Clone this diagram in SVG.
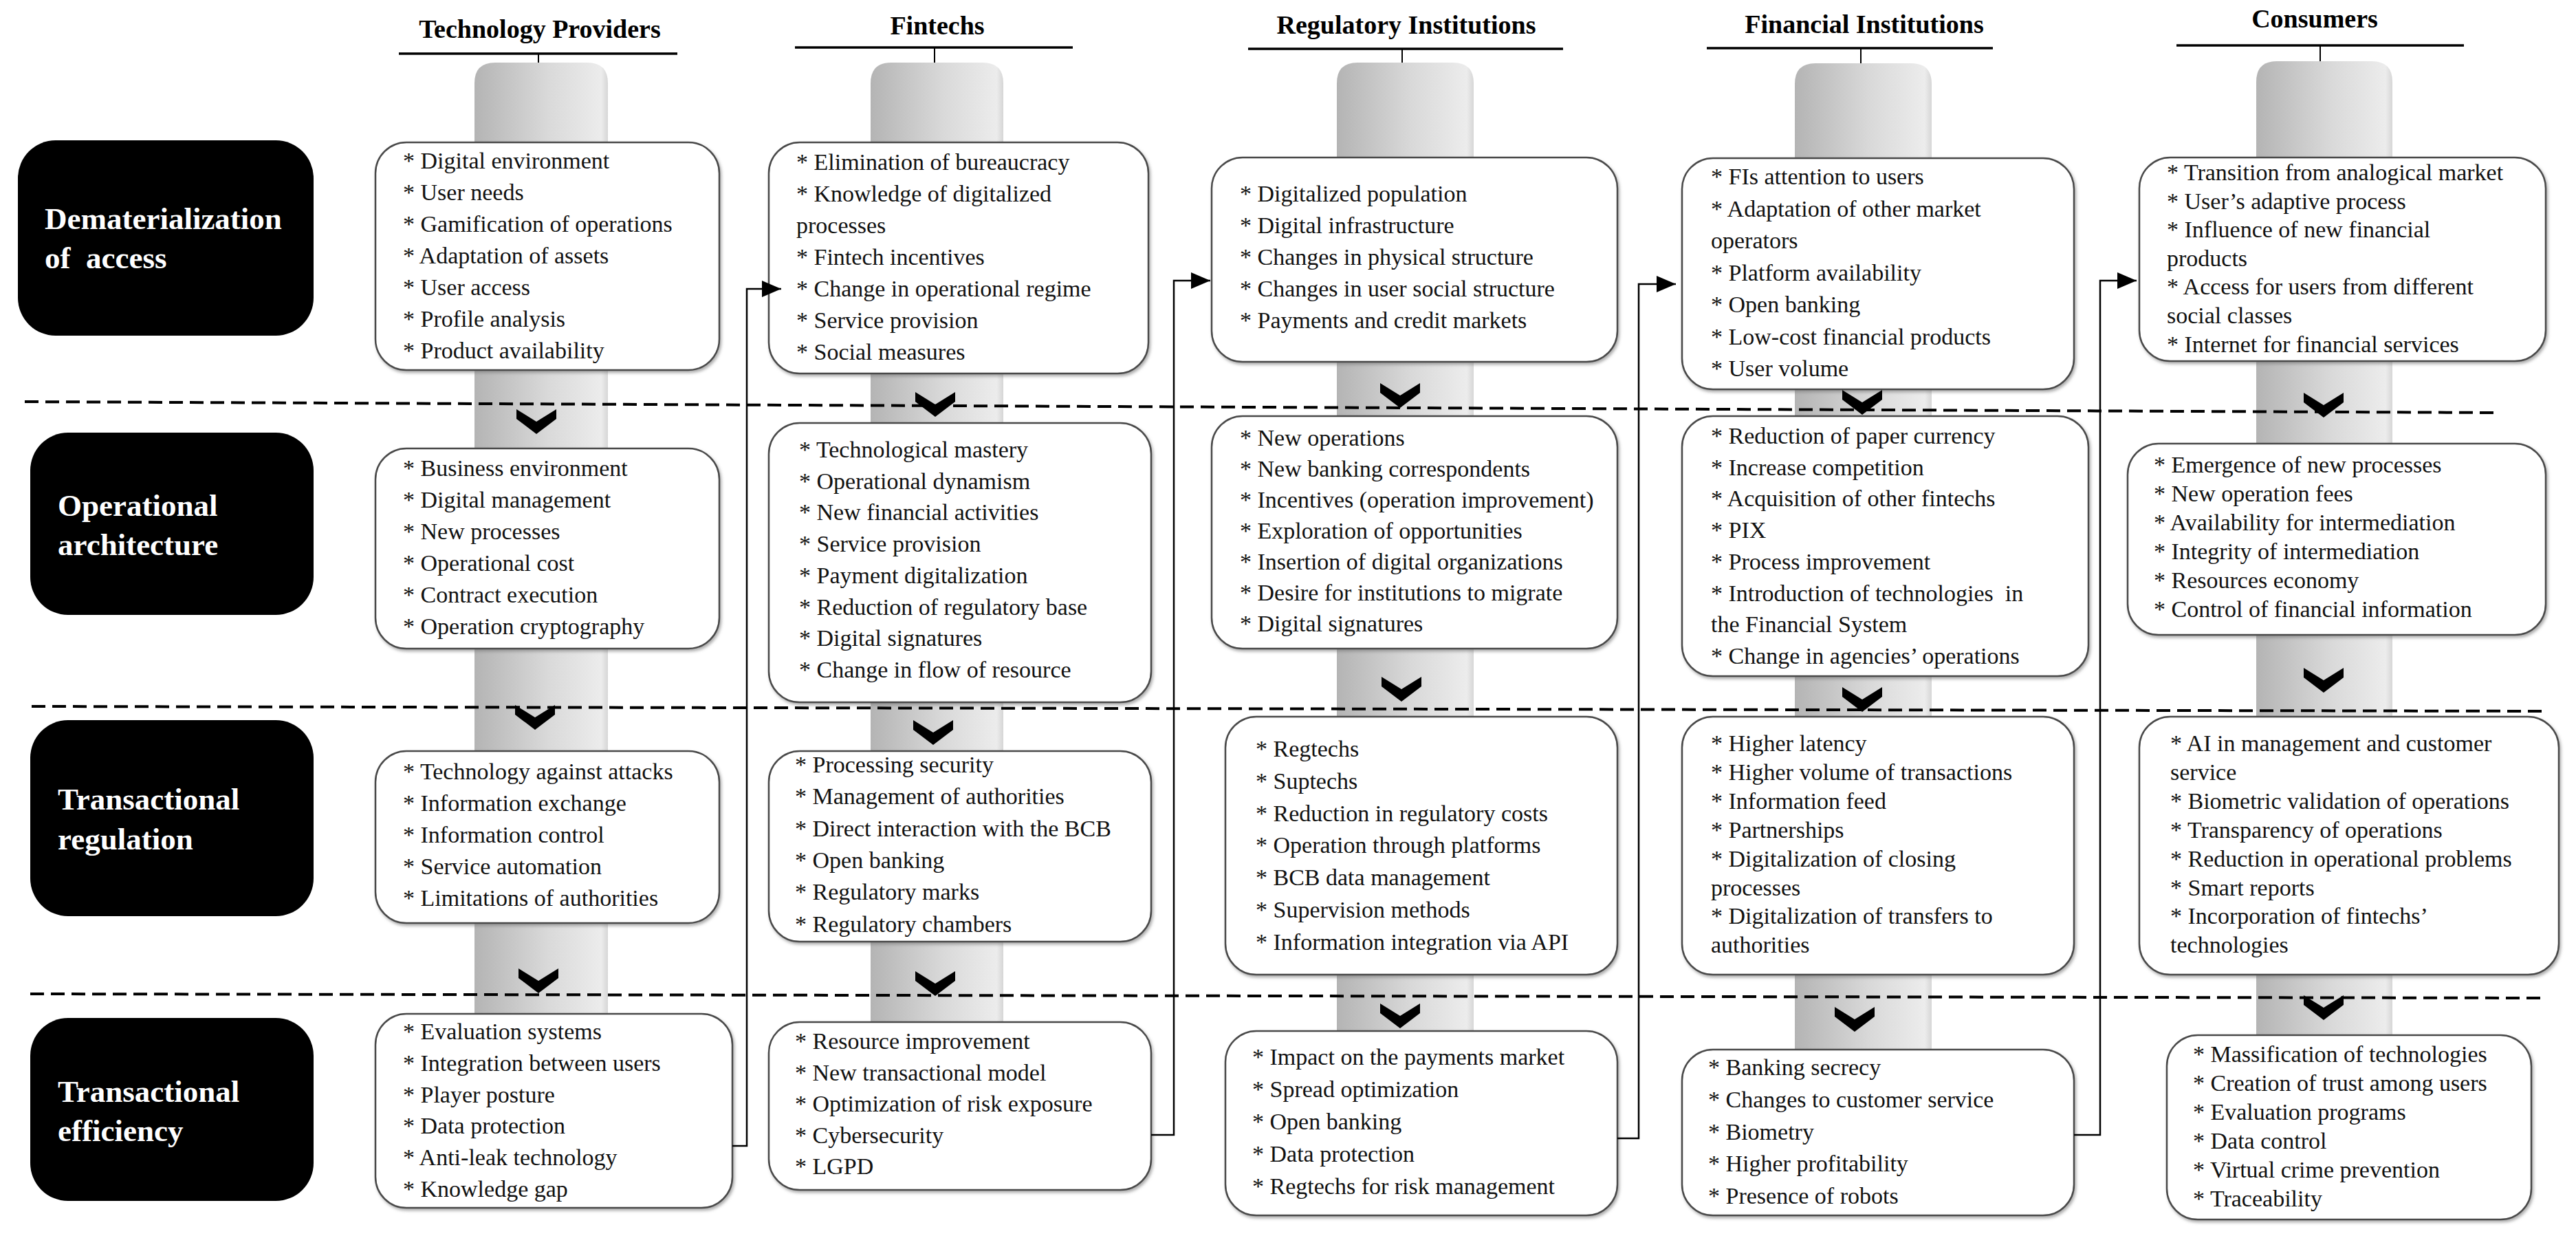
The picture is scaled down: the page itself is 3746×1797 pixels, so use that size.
<svg xmlns="http://www.w3.org/2000/svg" width="3746" height="1797" viewBox="0 0 3746 1797">
<defs>
<style>
.hdr{font-family:"Liberation Serif","Times New Roman",serif;font-weight:bold;font-size:38px;fill:#000;text-anchor:middle}
.hline{stroke:#000;stroke-width:3.5}
.tick{stroke:#000;stroke-width:2}
.pillar{fill:url(#pg)}
.dash{stroke:#000;stroke-width:4;stroke-dasharray:20 10;fill:none}
.box{fill:#fff;stroke:#4a4a4a;stroke-width:2.5;filter:url(#sh)}
.item{font-family:"Liberation Serif","Times New Roman",serif;font-size:34px;fill:#111}
.lab{fill:#000}
.labt{font-family:"Liberation Serif","Times New Roman",serif;font-weight:bold;font-size:45px;fill:#fff}
.conn{stroke:#000;stroke-width:2.5;fill:none;marker-end:url(#ah)}
.chev{fill:#000}
</style>
<linearGradient id="pg" x1="0" y1="0" x2="1" y2="0">
<stop offset="0" stop-color="#b4b4b4"/>
<stop offset="0.55" stop-color="#d9d9d9"/>
<stop offset="0.95" stop-color="#ececec"/>
<stop offset="1" stop-color="#d6d6d6"/>
</linearGradient>
<filter id="sh" x="-5%" y="-5%" width="110%" height="115%">
<feDropShadow dx="2" dy="3" stdDeviation="2" flood-color="#777" flood-opacity="0.6"/>
</filter>
<marker id="ah" viewBox="0 0 28 24" refX="28" refY="12" markerWidth="28" markerHeight="24" markerUnits="userSpaceOnUse" orient="auto">
<path d="M0,0 L28,12 L0,24 Z" fill="#000"/>
</marker>
<path id="chev" d="M-29,0 L0,18 L29,0 L29,14 L0,36 L-29,14 Z"/>
</defs>
<rect x="0" y="0" width="3746" height="1797" fill="#fff"/>

<g id="pillars">
<path class="pillar" d="M690,1500 V121 Q690,91 720,91 H854 Q884,91 884,121 V1500 Z"/>
<path class="pillar" d="M1266,1510 V121 Q1266,91 1296,91 H1429 Q1459,91 1459,121 V1510 Z"/>
<path class="pillar" d="M1944,1520 V121 Q1944,91 1974,91 H2113 Q2143,91 2143,121 V1520 Z"/>
<path class="pillar" d="M2610,1545 V122 Q2610,92 2640,92 H2779 Q2809,92 2809,122 V1545 Z"/>
<path class="pillar" d="M3281,1530 V119 Q3281,89 3311,89 H3449 Q3479,89 3479,119 V1530 Z"/>
</g>

<g id="dividers">
<line class="dash" x1="36" y1="584" x2="3632" y2="600"/>
<line class="dash" x1="46" y1="1027" x2="3703" y2="1034"/>
<line class="dash" x1="44" y1="1445" x2="3703" y2="1451"/>
</g>

<g id="headers">
<g id="hdr-tp"><text class="hdr" x="785" y="55">Technology Providers</text><line class="hline" x1="580" y1="78" x2="985" y2="78"/><line class="tick" x1="783" y1="78" x2="783" y2="91"/></g>
<g id="hdr-f"><text class="hdr" x="1363" y="50">Fintechs</text><line class="hline" x1="1156" y1="69" x2="1560" y2="69"/><line class="tick" x1="1359" y1="69" x2="1359" y2="91"/></g>
<g id="hdr-r"><text class="hdr" x="2045" y="49">Regulatory Institutions</text><line class="hline" x1="1815" y1="71" x2="2273" y2="71"/><line class="tick" x1="2039" y1="71" x2="2039" y2="91"/></g>
<g id="hdr-fi"><text class="hdr" x="2711" y="48">Financial Institutions</text><line class="hline" x1="2482" y1="70" x2="2898" y2="70"/><line class="tick" x1="2706" y1="70" x2="2706" y2="92"/></g>
<g id="hdr-c"><text class="hdr" x="3366" y="40">Consumers</text><line class="hline" x1="3165" y1="66" x2="3583" y2="66"/><line class="tick" x1="3374" y1="66" x2="3374" y2="89"/></g>
</g>

<g id="row-labels">
<g id="lab-1"><rect class="lab" x="26" y="204" width="430" height="284" rx="55"/><text class="labt" x="65" y="333">Dematerialization</text><text class="labt" x="65" y="390">of&#160; access</text></g>
<g id="lab-2"><rect class="lab" x="44" y="629" width="412" height="265" rx="55"/><text class="labt" x="84" y="750">Operational</text><text class="labt" x="84" y="807">architecture</text></g>
<g id="lab-3"><rect class="lab" x="44" y="1047" width="412" height="285" rx="55"/><text class="labt" x="84" y="1177">Transactional</text><text class="labt" x="84" y="1235">regulation</text></g>
<g id="lab-4"><rect class="lab" x="44" y="1480" width="412" height="266" rx="55"/><text class="labt" x="84" y="1602">Transactional</text><text class="labt" x="84" y="1659">efficiency</text></g>
</g>

<g id="tp1"><rect class="box" x="546" y="207" width="500" height="331" rx="45"/>
<text class="item" x="586" y="245"><tspan x="586">* Digital environment</tspan><tspan x="586" dy="46">* User needs</tspan><tspan x="586" dy="46">* Gamification of operations</tspan><tspan x="586" dy="46">* Adaptation of assets</tspan><tspan x="586" dy="46">* User access</tspan><tspan x="586" dy="46">* Profile analysis</tspan><tspan x="586" dy="46">* Product availability</tspan></text></g>

<g id="f1"><rect class="box" x="1118" y="207" width="552" height="336" rx="45"/>
<text class="item" x="1158" y="247"><tspan x="1158">* Elimination of bureaucracy</tspan><tspan x="1158" dy="46">* Knowledge of digitalized</tspan><tspan x="1158" dy="46">processes</tspan><tspan x="1158" dy="46">* Fintech incentives</tspan><tspan x="1158" dy="46">* Change in operational regime</tspan><tspan x="1158" dy="46">* Service provision</tspan><tspan x="1158" dy="46">* Social measures</tspan></text></g>

<g id="r1"><rect class="box" x="1762" y="229" width="590" height="297" rx="45"/>
<text class="item" x="1803" y="293"><tspan x="1803">* Digitalized population</tspan><tspan x="1803" dy="46">* Digital infrastructure</tspan><tspan x="1803" dy="46">* Changes in physical structure</tspan><tspan x="1803" dy="46">* Changes in user social structure</tspan><tspan x="1803" dy="46">* Payments and credit markets</tspan></text></g>

<g id="fi1"><rect class="box" x="2446" y="230" width="570" height="336" rx="45"/>
<text class="item" x="2488" y="268"><tspan x="2488">* FIs attention to users</tspan><tspan x="2488" dy="46.5">* Adaptation of other market</tspan><tspan x="2488" dy="46.5">operators</tspan><tspan x="2488" dy="46.5">* Platform availability</tspan><tspan x="2488" dy="46.5">* Open banking</tspan><tspan x="2488" dy="46.5">* Low-cost financial products</tspan><tspan x="2488" dy="46.5">* User volume</tspan></text></g>

<g id="c1"><rect class="box" x="3111" y="229" width="591" height="296" rx="45"/>
<text class="item" x="3151" y="262"><tspan x="3151">* Transition from analogical market</tspan><tspan x="3151" dy="41.6">* User’s adaptive process</tspan><tspan x="3151" dy="41.6">* Influence of new financial</tspan><tspan x="3151" dy="41.6">products</tspan><tspan x="3151" dy="41.6">* Access for users from different</tspan><tspan x="3151" dy="41.6">social classes</tspan><tspan x="3151" dy="41.6">* Internet for financial services</tspan></text></g>

<g id="tp2"><rect class="box" x="546" y="652" width="500" height="291" rx="45"/>
<text class="item" x="586" y="692"><tspan x="586">* Business environment</tspan><tspan x="586" dy="46">* Digital management</tspan><tspan x="586" dy="46">* New processes</tspan><tspan x="586" dy="46">* Operational cost</tspan><tspan x="586" dy="46">* Contract execution</tspan><tspan x="586" dy="46">* Operation cryptography</tspan></text></g>

<g id="f2"><rect class="box" x="1118" y="615" width="556" height="406" rx="45"/>
<text class="item" x="1162" y="665"><tspan x="1162">* Technological mastery</tspan><tspan x="1162" dy="45.7">* Operational dynamism</tspan><tspan x="1162" dy="45.7">* New financial activities</tspan><tspan x="1162" dy="45.7">* Service provision</tspan><tspan x="1162" dy="45.7">* Payment digitalization</tspan><tspan x="1162" dy="45.7">* Reduction of regulatory base</tspan><tspan x="1162" dy="45.7">* Digital signatures</tspan><tspan x="1162" dy="45.7">* Change in flow of resource</tspan></text></g>

<g id="r2"><rect class="box" x="1762" y="605" width="590" height="338" rx="45"/>
<text class="item" x="1803" y="648"><tspan x="1803">* New operations</tspan><tspan x="1803" dy="45">* New banking correspondents</tspan><tspan x="1803" dy="45">* Incentives (operation improvement)</tspan><tspan x="1803" dy="45">* Exploration of opportunities</tspan><tspan x="1803" dy="45">* Insertion of digital organizations</tspan><tspan x="1803" dy="45">* Desire for institutions to migrate</tspan><tspan x="1803" dy="45">* Digital signatures</tspan></text></g>

<g id="fi2"><rect class="box" x="2446" y="605" width="591" height="378" rx="45"/>
<text class="item" x="2488" y="645" xml:space="preserve"><tspan x="2488">* Reduction of paper currency</tspan><tspan x="2488" dy="45.7">* Increase competition</tspan><tspan x="2488" dy="45.7">* Acquisition of other fintechs</tspan><tspan x="2488" dy="45.7">* PIX</tspan><tspan x="2488" dy="45.7">* Process improvement</tspan><tspan x="2488" dy="45.7">* Introduction of technologies  in</tspan><tspan x="2488" dy="45.7">the Financial System</tspan><tspan x="2488" dy="45.7">* Change in agencies’ operations</tspan></text></g>

<g id="c2"><rect class="box" x="3094" y="645" width="608" height="278" rx="45"/>
<text class="item" x="3132" y="687"><tspan x="3132">* Emergence of new processes</tspan><tspan x="3132" dy="42">* New operation fees</tspan><tspan x="3132" dy="42">* Availability for intermediation</tspan><tspan x="3132" dy="42">* Integrity of intermediation</tspan><tspan x="3132" dy="42">* Resources economy</tspan><tspan x="3132" dy="42">* Control of financial information</tspan></text></g>

<g id="tp3"><rect class="box" x="546" y="1092" width="500" height="250" rx="45"/>
<text class="item" x="586" y="1133"><tspan x="586">* Technology against attacks</tspan><tspan x="586" dy="46">* Information exchange</tspan><tspan x="586" dy="46">* Information control</tspan><tspan x="586" dy="46">* Service automation</tspan><tspan x="586" dy="46">* Limitations of authorities</tspan></text></g>

<g id="f3"><rect class="box" x="1118" y="1092" width="556" height="277" rx="45"/>
<text class="item" x="1156" y="1123"><tspan x="1156">* Processing security</tspan><tspan x="1156" dy="46.3">* Management of authorities</tspan><tspan x="1156" dy="46.3">* Direct interaction with the BCB</tspan><tspan x="1156" dy="46.3">* Open banking</tspan><tspan x="1156" dy="46.3">* Regulatory marks</tspan><tspan x="1156" dy="46.3">* Regulatory chambers</tspan></text></g>

<g id="r3"><rect class="box" x="1782" y="1042" width="570" height="375" rx="45"/>
<text class="item" x="1826" y="1100"><tspan x="1826">* Regtechs</tspan><tspan x="1826" dy="46.8">* Suptechs</tspan><tspan x="1826" dy="46.8">* Reduction in regulatory costs</tspan><tspan x="1826" dy="46.8">* Operation through platforms</tspan><tspan x="1826" dy="46.8">* BCB data management</tspan><tspan x="1826" dy="46.8">* Supervision methods</tspan><tspan x="1826" dy="46.8">* Information integration via API</tspan></text></g>

<g id="fi3"><rect class="box" x="2446" y="1042" width="570" height="375" rx="45"/>
<text class="item" x="2488" y="1092"><tspan x="2488">* Higher latency</tspan><tspan x="2488" dy="41.9">* Higher volume of transactions</tspan><tspan x="2488" dy="41.9">* Information feed</tspan><tspan x="2488" dy="41.9">* Partnerships</tspan><tspan x="2488" dy="41.9">* Digitalization of closing</tspan><tspan x="2488" dy="41.9">processes</tspan><tspan x="2488" dy="41.9">* Digitalization of transfers to</tspan><tspan x="2488" dy="41.9">authorities</tspan></text></g>

<g id="c3"><rect class="box" x="3111" y="1042" width="610" height="375" rx="45"/>
<text class="item" x="3156" y="1092"><tspan x="3156">* AI in management and customer</tspan><tspan x="3156" dy="41.9">service</tspan><tspan x="3156" dy="41.9">* Biometric validation of operations</tspan><tspan x="3156" dy="41.9">* Transparency of operations</tspan><tspan x="3156" dy="41.9">* Reduction in operational problems</tspan><tspan x="3156" dy="41.9">* Smart reports</tspan><tspan x="3156" dy="41.9">* Incorporation of fintechs’</tspan><tspan x="3156" dy="41.9">technologies</tspan></text></g>

<g id="tp4"><rect class="box" x="546" y="1474" width="519" height="282" rx="45"/>
<text class="item" x="586" y="1511"><tspan x="586">* Evaluation systems</tspan><tspan x="586" dy="45.8">* Integration between users</tspan><tspan x="586" dy="45.8">* Player posture</tspan><tspan x="586" dy="45.8">* Data protection</tspan><tspan x="586" dy="45.8">* Anti-leak technology</tspan><tspan x="586" dy="45.8">* Knowledge gap</tspan></text></g>

<g id="f4"><rect class="box" x="1118" y="1486" width="556" height="244" rx="45"/>
<text class="item" x="1156" y="1525"><tspan x="1156">* Resource improvement</tspan><tspan x="1156" dy="45.5">* New transactional model</tspan><tspan x="1156" dy="45.5">* Optimization of risk exposure</tspan><tspan x="1156" dy="45.5">* Cybersecurity</tspan><tspan x="1156" dy="45.5">* LGPD</tspan></text></g>

<g id="r4"><rect class="box" x="1782" y="1499" width="570" height="268" rx="45"/>
<text class="item" x="1821" y="1548"><tspan x="1821">* Impact on the payments market</tspan><tspan x="1821" dy="47">* Spread optimization</tspan><tspan x="1821" dy="47">* Open banking</tspan><tspan x="1821" dy="47">* Data protection</tspan><tspan x="1821" dy="47">* Regtechs for risk management</tspan></text></g>

<g id="fi4"><rect class="box" x="2446" y="1526" width="570" height="241" rx="45"/>
<text class="item" x="2484" y="1563"><tspan x="2484">* Banking secrecy</tspan><tspan x="2484" dy="46.8">* Changes to customer service</tspan><tspan x="2484" dy="46.8">* Biometry</tspan><tspan x="2484" dy="46.8">* Higher profitability</tspan><tspan x="2484" dy="46.8">* Presence of robots</tspan></text></g>

<g id="c4"><rect class="box" x="3151" y="1505" width="530" height="268" rx="45"/>
<text class="item" x="3189" y="1544"><tspan x="3189">* Massification of technologies</tspan><tspan x="3189" dy="42">* Creation of trust among users</tspan><tspan x="3189" dy="42">* Evaluation programs</tspan><tspan x="3189" dy="42">* Data control</tspan><tspan x="3189" dy="42">* Virtual crime prevention</tspan><tspan x="3189" dy="42">* Traceability</tspan></text></g>

<g id="chevrons" class="chev">
<use href="#chev" x="780" y="595"/>
<use href="#chev" x="778" y="1025"/>
<use href="#chev" x="783" y="1408"/>
<use href="#chev" x="1360" y="570"/>
<use href="#chev" x="1357" y="1047"/>
<use href="#chev" x="1360" y="1412"/>
<use href="#chev" x="2036" y="557"/>
<use href="#chev" x="2038" y="984"/>
<use href="#chev" x="2036" y="1459"/>
<use href="#chev" x="2708" y="567"/>
<use href="#chev" x="2708" y="999"/>
<use href="#chev" x="2697" y="1464"/>
<use href="#chev" x="3379" y="571"/>
<use href="#chev" x="3379" y="971"/>
<use href="#chev" x="3379" y="1447"/>
</g>

<g id="connectors">
<path class="conn" d="M1065,1666 H1086 V420 H1136"/>
<path class="conn" d="M1674,1650 H1707 V408 H1760"/>
<path class="conn" d="M2352,1655 H2383 V413 H2437"/>
<path class="conn" d="M3016,1650 H3054 V408 H3107"/>
</g>
</svg>
